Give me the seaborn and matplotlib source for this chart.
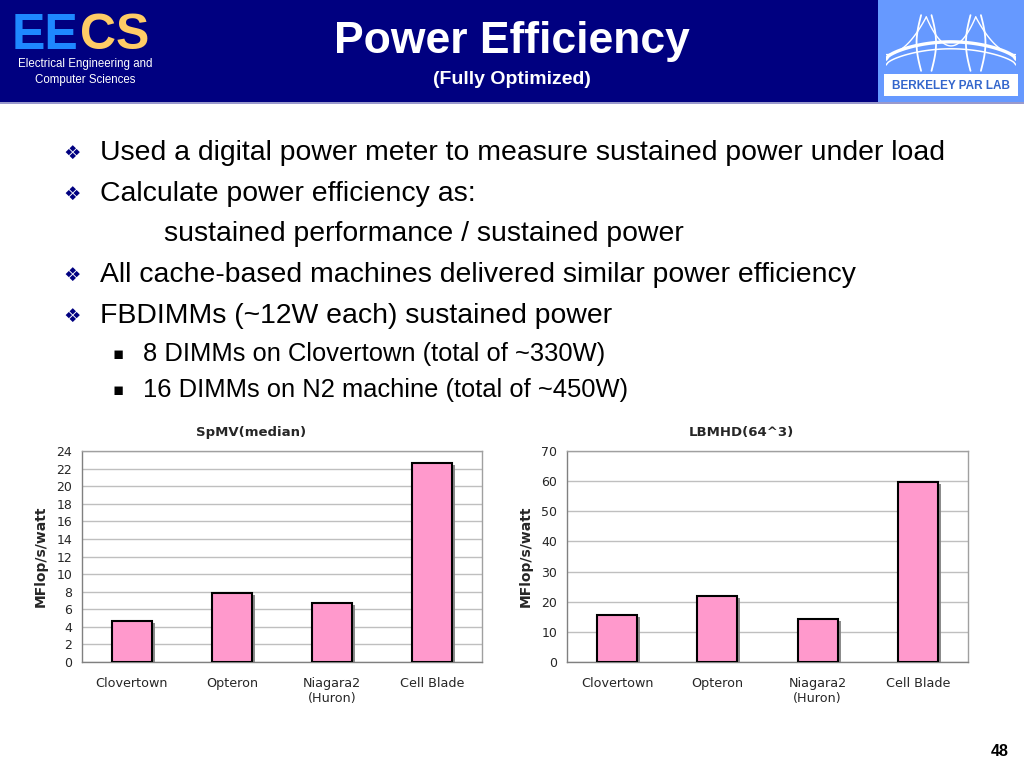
import numpy as np
import pandas as pd
import matplotlib
matplotlib.use("Agg")
import matplotlib.pyplot as plt
import matplotlib.patheffects as pe
from matplotlib.patches import Rectangle
import seaborn as sns

machines = ["Clovertown", "Opteron", "Niagara2\n(Huron)", "Cell Blade"]
spmv_vals = [4.7, 7.9, 6.7, 22.6]
lbmhd_vals = [15.5, 21.8, 14.2, 59.6]

spmv_title = "SpMV(median)"
lbmhd_title = "LBMHD(64^3)"
ylabel = "MFlop/s/watt"

bullets = [
    "Used a digital power meter to measure sustained power under load",
    "Calculate power efficiency as:",
    "All cache-based machines delivered similar power efficiency",
    "FBDIMMs (~12W each) sustained power",
]
sub_bullets = [
    "8 DIMMs on Clovertown (total of ~330W)",
    "16 DIMMs on N2 machine (total of ~450W)",
]

sns.set_style("white")
plt.rcParams['font.family'] = ['Liberation Sans', 'DejaVu Sans']

fig = plt.figure(figsize=(10.24, 7.68), dpi=100)
fig.patch.set_facecolor("white")

# header band
navy = "#000080"
fig.patches.append(Rectangle((0, 1 - 102/768), 1, 102/768, transform=fig.transFigure,
                             facecolor=navy, edgecolor="none", zorder=0))
fig.patches.append(Rectangle((0, 1 - 104/768), 1, 2/768, transform=fig.transFigure,
                             facecolor="#9999CC", edgecolor="none", zorder=0))
fig.patches.append(Rectangle((878/1024, 1 - 102/768), 146/1024, 102/768, transform=fig.transFigure,
                             facecolor="#6699FF", edgecolor="none", zorder=1))
fig.patches.append(Rectangle((884/1024, 1 - 96/768), 134/1024, 22/768, transform=fig.transFigure,
                             facecolor="white", edgecolor="none", zorder=2))
fig.text(951/1024, 1 - 86/768, "BERKELEY PAR LAB", color="#3366CC", fontsize=8.5,
         fontweight="bold", ha="center", va="center", zorder=3)

# bridge sketch in logo
lax = fig.add_axes([886/1024, 1 - 72/768, 130/1024, 58/768], zorder=5)
lax.set_xlim(0, 1)
lax.set_ylim(0, 1)
lax.axis("off")
t = np.linspace(0, 1, 60)
lax.plot(t, 0.22 + 0.30 * np.sin(np.pi * t) ** 0.6, color="white", lw=2.4)
lax.plot(t, 0.12 + 0.28 * np.sin(np.pi * t) ** 0.6, color="white", lw=1.1)
tt = np.linspace(0, 1, 30)
for tx, sgn in [(0.27, 1), (0.35, -1), (0.65, 1), (0.73, -1)]:
    lax.plot(tx - sgn * 0.035 * np.sin(np.pi * tt), 0.02 + 0.96 * tt, color="white", lw=1.3)
# main cables
for x0, x1, top_left in [(0.0, 0.31, False), (0.31, 0.69, None), (0.69, 1.0, True)]:
    xs = np.linspace(x0, x1, 40)
    if top_left is None:
        ys = 0.45 + 0.5 * ((xs - 0.5) / 0.19) ** 2
    elif top_left:
        ys = 0.3 + 0.65 * ((1.0 - xs) / 0.31) ** 2
    else:
        ys = 0.3 + 0.65 * (xs / 0.31) ** 2
    lax.plot(xs, ys, color="white", lw=1)

# EECS logo
fig.text(12/1024, 1 - 36/768, "EE", color="#1E88FF", fontsize=36, fontweight="bold",
         ha="left", va="center", family="Liberation Sans")
fig.text(80/1024, 1 - 36/768, "CS", color="#FFCC66", fontsize=36, fontweight="bold",
         ha="left", va="center", family="Liberation Sans")
fig.text(85/1024, 1 - 64/768, "Electrical Engineering and", color="white", fontsize=8.3,
         ha="center", va="center")
fig.text(85/1024, 1 - 80/768, "Computer Sciences", color="white", fontsize=8.3,
         ha="center", va="center")

# slide title
fig.text(512/1024, 1 - 42/768, "Power Efficiency", color="white", fontsize=32,
         fontweight="bold", ha="center", va="center")
fig.text(512/1024, 1 - 79/768, "(Fully Optimized)", color="white", fontsize=14,
         fontweight="bold", ha="center", va="center")

# bullet text
rows = [(153, bullets[0]), (194, bullets[1]), (275, bullets[2]), (316, bullets[3])]
for y, s in rows:
    fig.text(72/1024, 1 - y/768, "\u2756", color=navy, fontsize=14, ha="center",
             va="center", family="DejaVu Sans")
    fig.text(100/1024, 1 - y/768, s, color="black", fontsize=20.4, ha="left", va="center")
fig.text(164/1024, 1 - 234/768, "sustained performance / sustained power", color="black",
         fontsize=20.4, ha="left", va="center")
for y, s in zip([354, 390], sub_bullets):
    fig.text(118/1024, 1 - y/768, "\u25aa", color="black", fontsize=12, ha="center",
             va="center", family="DejaVu Sans")
    fig.text(143/1024, 1 - y/768, s, color="black", fontsize=18.4, ha="left", va="center")

fig.text(1000/1024, 1 - 752/768, "48", color="black", fontsize=11.5, fontweight="bold",
         ha="center", va="center")


def draw_chart(rect, values, title, ymax, step, title_x):
    ax = fig.add_axes(rect)
    df = pd.DataFrame({"machine": machines, "value": values})
    sns.barplot(data=df, x="machine", y="value", color="#FF99CC", width=0.4,
                edgecolor="black", linewidth=1.5, saturation=1, ax=ax, zorder=3)
    for p in ax.patches:
        p.set_path_effects([pe.SimplePatchShadow(offset=(2.2, -1.5), shadow_rgbFace="#808080",
                                                 alpha=0.9), pe.Normal()])
    ax.set_ylim(0, ymax)
    ax.set_xlim(-0.5, 3.5)
    ax.set_yticks(np.arange(0, ymax + step / 2, step))
    ax.yaxis.grid(True, color="#BFBFBF", lw=1, zorder=0)
    ax.set_axisbelow(True)
    for sp in ax.spines.values():
        sp.set_visible(True)
        sp.set_color("#A0A0A0")
        sp.set_linewidth(1)
    ax.spines["bottom"].set_color("#808080")
    ax.spines["left"].set_color("#808080")
    ax.set_xticks(np.arange(-0.5, 4, 1), minor=True)
    ax.tick_params(axis="x", which="major", length=0, pad=11, labelsize=9.2)
    ax.tick_params(axis="x", which="minor", length=4, color="#808080")
    ax.tick_params(axis="y", which="major", length=4, color="#808080", labelsize=9, pad=3)
    for lab in ax.get_xticklabels() + ax.get_yticklabels():
        lab.set_family("DejaVu Sans")
    ax.set_xlabel("")
    ax.set_ylabel(ylabel, fontsize=10, fontweight="bold", family="DejaVu Sans", labelpad=6)
    ax.set_title(title, fontsize=9.5, fontweight="bold", family="DejaVu Sans", pad=11,
                 x=title_x)
    return ax


draw_chart([82/1024, 1 - 662/768, 400/1024, 211/768], spmv_vals, spmv_title, 24, 2, 0.4225)
draw_chart([567/1024, 1 - 662/768, 401/1024, 211/768], lbmhd_vals, lbmhd_title, 70, 10, 0.434)

fig.savefig("out.png", dpi=100)
